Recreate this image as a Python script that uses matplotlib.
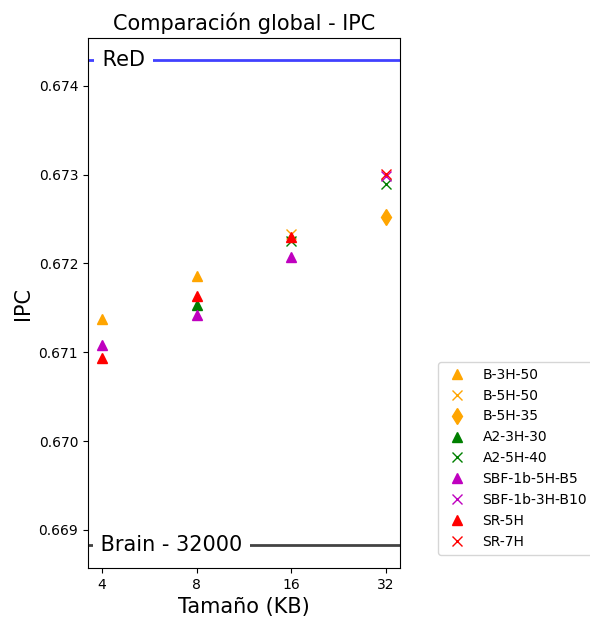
import matplotlib
matplotlib.use("Agg")
import matplotlib.pyplot as plt
import numpy as np

sizes = ["4", "8", "16", "32"]
nan = np.nan

# IPC per configuración (NaN = no medido)
b_3h_50 = [0.67138, 0.67186, nan, nan]
b_5h_50 = [nan, nan, 0.67233, nan]
b_5h_35 = [nan, nan, nan, 0.67252]
a2_3h_30 = [nan, 0.67153, nan, nan]
a2_5h_40 = [nan, nan, 0.67225, 0.67289]
sbf_5h_b5 = [0.67108, 0.67142, 0.67207, nan]
sbf_3h_b10 = [nan, nan, nan, 0.67298]
sr_5h = [0.67094, 0.67163, 0.67230, nan]
sr_7h = [nan, nan, nan, 0.67301]

red_ipc = 0.67429
brain_ipc = 0.66883

series = [
    ("B-3H-50", b_3h_50, "^", "orange"),
    ("B-5H-50", b_5h_50, "x", "orange"),
    ("B-5H-35", b_5h_35, "d", "orange"),
    ("A2-3H-30", a2_3h_30, "^", "g"),
    ("A2-5H-40", a2_5h_40, "x", "g"),
    ("SBF-1b-5H-B5", sbf_5h_b5, "^", "m"),
    ("SBF-1b-3H-B10", sbf_3h_b10, "x", "m"),
    ("SR-5H", sr_5h, "^", "r"),
    ("SR-7H", sr_7h, "x", "r"),
]

fig = plt.figure(figsize=(5.9, 6.19), dpi=100)
ax = fig.add_axes([0.149, 0.0824, 0.529, 0.8562])

x = np.arange(len(sizes))
for name, vals, mk, col in series:
    ms = 8 if mk == "d" else 7
    ax.plot(x, vals, linestyle="none", marker=mk, color=col, markersize=ms, label=name)

ax.axhline(red_ipc, color="#2020ff", lw=2, alpha=0.85)
ax.axhline(brain_ipc, color="#222222", lw=2, alpha=0.85)
ax.text(0.025, red_ipc, " ReD ", transform=ax.get_yaxis_transform(), fontsize=15,
        va="center", ha="left", bbox=dict(facecolor="white", edgecolor="none", pad=1))
ax.text(0.02, brain_ipc, " Brain - 32000 ", transform=ax.get_yaxis_transform(), fontsize=15,
        va="center", ha="left", bbox=dict(facecolor="white", edgecolor="none", pad=1))

ax.set_xticks(x)
ax.set_xticklabels(sizes)
ax.set_ylim(0.66857, 0.67454)
ax.set_yticks([0.669, 0.670, 0.671, 0.672, 0.673, 0.674])
ax.set_xlabel("Tamaño (KB)", fontsize=15)
ax.set_ylabel("IPC", fontsize=15)
ax.set_title("Comparación global - IPC", fontsize=15)

fig.legend(loc="upper left", bbox_to_anchor=(438 / 590, 1 - 362 / 619),
           bbox_transform=fig.transFigure, borderaxespad=0, fontsize=10)

fig.savefig("out.png", dpi=100)
